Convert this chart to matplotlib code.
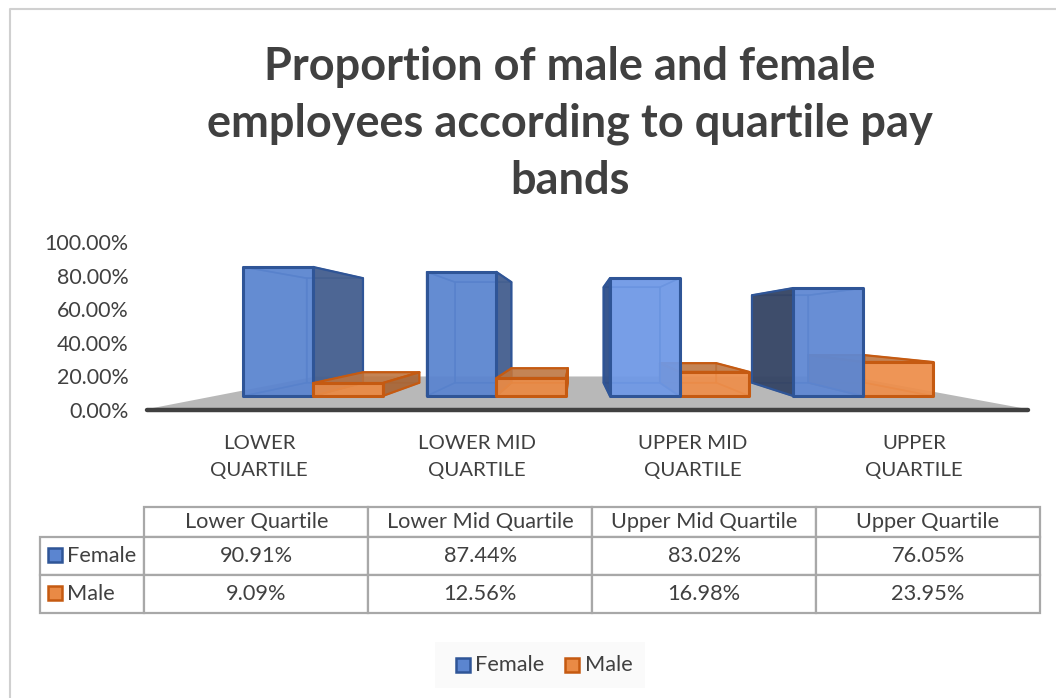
import matplotlib
matplotlib.use("Agg")
import matplotlib.pyplot as plt
from matplotlib.patches import Polygon, Rectangle
from matplotlib.lines import Line2D

TITLE = "Proportion of male and female\nemployees according to quartile pay\nbands"
cat_axis = ["LOWER\nQUARTILE", "LOWER MID\nQUARTILE", "UPPER MID\nQUARTILE", "UPPER\nQUARTILE"]
cat_table = ["Lower Quartile", "Lower Mid Quartile", "Upper Mid Quartile", "Upper Quartile"]
female = [90.91, 87.44, 83.02, 76.05]
male = [9.09, 12.56, 16.98, 23.95]
yticks = [0, 20, 40, 60, 80, 100]

W, H = 1056, 698
plt.rcParams['font.family'] = ['Lato', 'DejaVu Sans']
TXT = '#404040'
FS = 15.7
fig = plt.figure(figsize=(W / 100, H / 100), dpi=100, facecolor='white')

def fx(x): return x / W
def fy(y): return 1 - y / H

# chart frame
fig.add_artist(Line2D([fx(10), fx(10), fx(W)], [fy(H), fy(9), fy(9)], color='#d0d0d0', lw=1.5))

fig.text(fx(570), fy(124), TITLE, ha='center', va='center', fontsize=32.5, fontweight='bold',
         color=TXT, linespacing=1.43)

ax = fig.add_axes([fx(145), fy(410), fx(895), 168 / H])
ax.set_xlim(-168 / 183.3, 727 / 183.3)
ax.set_ylim(0, 100)
ax.patch.set_alpha(0)
for s in ax.spines.values():
    s.set_visible(False)
ax.set_xticks([])
ax.set_yticks(yticks)
ax.set_yticklabels([f"{v:.2f}%" for v in yticks], fontsize=15.4, color=TXT)
ax.tick_params(axis='y', length=0, pad=12)

# perspective of the 3D plot
VX, VY = 1.435, 50.0
BASE, SCALE = 8.33, 0.845
DEPTH = 0.81
BAR_W = 0.38

def proj(x, v, s):
    y = BASE + v * SCALE
    return (VX + (x - VX) * s, VY + (y - VY) * s)

# floor
fs = 0.607
fl, fr = -0.906, 3.90
floor = [(fl, 0.5), (fr, 0.5), (VX + (fr - VX) * fs, VY + (0.5 - VY) * fs), (VX + (fl - VX) * fs, VY + (0.5 - VY) * fs)]
ax.add_patch(Polygon(floor, closed=True, fc='#b8b8b8', ec='none', zorder=1))
ax.plot([fl, fr], [0, 0], color='#404040', lw=3.2, solid_capstyle='round', zorder=50, clip_on=False)

def face(pts, fc, ec, alpha, lw, z):
    ax.add_patch(Polygon(pts, closed=True, fc=matplotlib.colors.to_rgba(fc, alpha),
                         ec=matplotlib.colors.to_rgba(ec, min(1, alpha + 0.4)), lw=lw, joinstyle='round', zorder=z,
                         clip_on=False))

def bar(x0, x1, v, front, edge, side, top, z):
    f = lambda x, val: proj(x, val, 1)
    b = lambda x, val: proj(x, val, DEPTH)
    # interior faces
    face([b(x0, 0), b(x1, 0), b(x1, v), b(x0, v)], front, edge, 0.28, 1.2, z)
    face([f(x0, 0), f(x1, 0), b(x1, 0), b(x0, 0)], front, edge, 0.28, 1.2, z)
    top_y = BASE + v * SCALE
    if top_y >= VY:
        face([f(x0, v), f(x1, v), b(x1, v), b(x0, v)], front, edge, 0.28, 1.2, z)
    right_out = x1 < VX
    left_out = x0 > VX
    if not right_out:
        face([f(x1, 0), b(x1, 0), b(x1, v), f(x1, v)], front, edge, 0.28, 1.2, z)
    if not left_out:
        face([f(x0, 0), b(x0, 0), b(x0, v), f(x0, v)], front, edge, 0.28, 1.2, z)
    # outward faces
    if top_y < VY:
        face([f(x0, v), f(x1, v), b(x1, v), b(x0, v)], top, edge, 0.85, 1.6, z + 0.1)
    if right_out:
        face([f(x1, 0), b(x1, 0), b(x1, v), f(x1, v)], side, edge, 0.95, 1.6, z + 0.1)
    if left_out:
        face([f(x0, 0), b(x0, 0), b(x0, v), f(x0, v)], side, edge, 0.95, 1.6, z + 0.1)
    # front
    face([f(x0, 0), f(x1, 0), f(x1, v), f(x0, v)], front, edge, 0.92, 2.2, z + 0.2)

BLUE = ['#5b85d0', '#5b85d0', '#6f99e6', '#5f88d3']
BLUE_SIDE = ['#46608f', '#46608f', '#2f4f8a', '#364564']
ORANGE = ['#e98a45', '#e98a45', '#ee8f4c', '#ee8f4c']
ORANGE_SIDE = '#a8683a'
ORANGE_TOP = '#bb7440'
BLUE_EDGE, ORANGE_EDGE = '#2f5597', '#c55a11'

for i, (fv, mv) in enumerate(zip(female, male)):
    z = 5 + i * 2
    if i + 0.0 < VX:   # bars left of the vanishing point: female lies farther out
        bar(i - BAR_W, i, fv, BLUE[i], BLUE_EDGE, BLUE_SIDE[i], BLUE[i], z)
        bar(i, i + BAR_W, mv, ORANGE[i], ORANGE_EDGE, ORANGE_SIDE, ORANGE_TOP, z + 1)
    else:
        bar(i, i + BAR_W, mv, ORANGE[i], ORANGE_EDGE, ORANGE_SIDE, ORANGE_TOP, z)
        bar(i - BAR_W, i, fv, BLUE[i], BLUE_EDGE, BLUE_SIDE[i], BLUE[i], z + 1)

# category labels
for lab, cx in zip(cat_axis, [259, 477, 693, 914]):
    fig.text(fx(cx), fy(457), lab, ha='center', va='center', fontsize=14.7, color=TXT, linespacing=1.72)

# data table
tax = fig.add_axes([0, 0, 1, 1])
tax.axis('off')
tax.patch.set_alpha(0)
rows = [[''] + cat_table,
        ['Female'] + [f"{v:.2f}%" for v in female],
        ['Male'] + [f"{v:.2f}%" for v in male]]
col_w = [105, 224, 224, 224, 224]
tbl = tax.table(cellText=rows, colWidths=[c / 1001 for c in col_w], cellLoc='center',
                bbox=[fx(39.5), fy(613), 1000.5 / W, 106 / H])
tbl.auto_set_font_size(False)
row_h = [30, 38, 38]
for (r, c), cell in tbl.get_celld().items():
    cell.set_height(row_h[r] / H)
    cell.set_edgecolor('#a8a8a8')
    cell.set_linewidth(1.6)
    cell.get_text().set_fontsize(FS)
    cell.get_text().set_color(TXT)
    if c == 0:
        cell.get_text().set_ha('left')
        cell.PAD = 27.5 / 105
tbl[(0, 0)].visible_edges = 'open'

def key(x, y, s, fc, ec):
    fig.add_artist(Rectangle((fx(x), fy(y + s)), s / W, s / H, fc=fc, ec=ec, lw=1.8,
                             transform=fig.transFigure))

key(47.5, 548, 14, BLUE[0], BLUE_EDGE)
key(47.5, 586, 14, ORANGE[0], ORANGE_EDGE)

# legend
fig.add_artist(Rectangle((fx(435), fy(688)), 210 / W, 46 / H, fc='#fafafa', ec='none', transform=fig.transFigure))
key(455.5, 658, 14, BLUE[0], BLUE_EDGE)
key(565, 658, 14, ORANGE[0], ORANGE_EDGE)
fig.text(fx(475), fy(665), 'Female', ha='left', va='center', fontsize=FS, color=TXT)
fig.text(fx(585), fy(665), 'Male', ha='left', va='center', fontsize=FS, color=TXT)

fig.savefig('out.png', dpi=100, facecolor='white')
